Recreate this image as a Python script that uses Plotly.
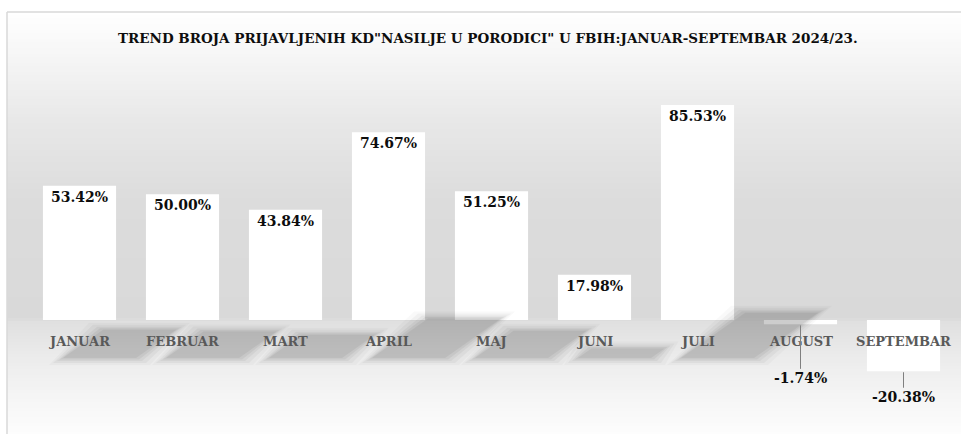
import plotly.graph_objects as go

categories = ["JANUAR", "FEBRUAR", "MART", "APRIL", "MAJ", "JUNI", "JULI", "AUGUST", "SEPTEMBAR"]
values = [53.42, 50.00, 43.84, 74.67, 51.25, 17.98, 85.53, -1.74, -20.38]
title_text = 'TREND BROJA PRIJAVLJENIH KD"NASILJE U PORODICI" U FBIH:JANUAR-SEPTEMBAR 2024/23.'

W, H = 961, 434
# plot area in pixels
PL, PR, PT, PB = 28, 955, 80, 410
PX_PER_UNIT = 2.514
ZERO_PX = 320
y_top = (ZERO_PX - PT) / PX_PER_UNIT
y_bot = -(PB - ZERO_PX) / PX_PER_UNIT
BAR_W = 0.71
KX = 1.0 / ((PR - PL) / len(categories))   # data units per px (x)
KY = 1.0 / PX_PER_UNIT                      # data units per px (y)

SERIF = "DejaVu Serif"

fig = go.Figure()

# ---- background gradient (stripes) ----
stops = [(12, (255, 255, 255)), (60, (245, 245, 245)), (120, (232, 232, 232)),
         (200, (220, 220, 220)), (318, (217, 217, 217)), (322, (224, 224, 224)),
         (360, (236, 236, 236)), (400, (246, 246, 246)), (434, (253, 253, 253))]


def col_at(py):
    for (a, ca), (b, cb) in zip(stops[:-1], stops[1:]):
        if a <= py <= b:
            t = (py - a) / (b - a) if b > a else 0
            return tuple(round(ca[k] + (cb[k] - ca[k]) * t) for k in range(3))
    return stops[-1][1]


shapes = []
step = 3
py = 12
while py < H:
    c = col_at(py + step / 2)
    shapes.append(dict(type="rect", xref="paper", yref="paper", layer="below",
                       x0=7 / W, x1=1.0, y0=1 - min(py + step, H) / H - 0.001, y1=1 - py / H,
                       line=dict(width=0), fillcolor=f"rgb({c[0]},{c[1]},{c[2]})"))
    py += step
# chart area border
shapes.append(dict(type="line", xref="paper", yref="paper", x0=7 / W, x1=7 / W,
                   y0=0, y1=1 - 12 / H, line=dict(color="#d9d9d9", width=1.5), layer="below"))
shapes.append(dict(type="line", xref="paper", yref="paper", x0=7 / W, x1=1.0,
                   y0=1 - 12 / H, y1=1 - 12 / H, line=dict(color="#d9d9d9", width=1.5), layer="below"))

# ---- soft shadows under positive bars ----
for i, v in enumerate(values):
    if v <= 0:
        continue
    off = 20
    h = 0.53 * v
    s = 0.75 * v
    for grow, op in [(14, 0.025), (10, 0.035), (6, 0.045), (3, 0.05), (0, 0.055)]:
        xl = i - BAR_W / 2 + (off - grow) * KX
        xr = i + BAR_W / 2 + (off + grow) * KX
        yb = -(38 + grow * 0.5) * KY
        yt = yb + (h + grow * 1.0) * KY
        sx = s * KX
        fig.add_trace(go.Scatter(
            x=[xl, xr, xr + sx, xl + sx, xl],
            y=[yb, yb, yt, yt, yb],
            fill="toself", mode="lines", line=dict(width=0),
            fillcolor=f"rgba(0,0,0,{op})", hoverinfo="skip", showlegend=False))

# ---- bars ----
fig.add_trace(go.Bar(
    x=list(range(len(categories))), y=values, width=BAR_W,
    marker=dict(color="#ffffff", line=dict(width=0)),
    text=[f"{v:.2f}%" if v > 0 else "" for v in values],
    textposition="inside", insidetextanchor="end",
    textfont=dict(family=SERIF, size=14, color="#0d0d0d", weight="bold"),
    textangle=0, cliponaxis=False, showlegend=False, hoverinfo="skip"))

annotations = []
# category labels at the zero line
for i, c in enumerate(categories):
    annotations.append(dict(x=i, y=0, xref="x", yref="y", text=c, showarrow=False,
                            yshift=-21, font=dict(family=SERIF, size=13, color="#595959", weight="bold")))
# labels for negative bars with leader lines
for i, v in enumerate(values):
    if v < 0:
        ay = 54 if v > -5 else 26
        annotations.append(dict(x=i, y=v, xref="x", yref="y", text=f"{v:.2f}%",
                                showarrow=True, arrowhead=0, arrowwidth=1, arrowcolor="#7f7f7f",
                                ax=0, ay=ay, standoff=1,
                                font=dict(family=SERIF, size=14, color="#0d0d0d", weight="bold")))
# title
annotations.append(dict(x=488 / W, y=1 - 38 / H, xref="paper", yref="paper", text=title_text,
                        showarrow=False, xanchor="center", yanchor="middle",
                        font=dict(family=SERIF, size=13.5, color="#0d0d0d", weight="bold")))

fig.update_layout(
    width=W, height=H, margin=dict(l=0, r=0, t=0, b=0),
    paper_bgcolor="#ffffff", plot_bgcolor="rgba(0,0,0,0)",
    shapes=shapes, annotations=annotations, bargap=0.29,
    xaxis=dict(domain=[PL / W, PR / W], range=[-0.5, len(categories) - 0.5],
               visible=False, fixedrange=True),
    yaxis=dict(domain=[1 - PB / H, 1 - PT / H], range=[y_bot, y_top],
               visible=False, fixedrange=True),
)

fig.write_html("out.html", config={"displayModeBar": False},
               post_script="document.body.style.margin='0px';document.body.style.overflow='hidden';")
